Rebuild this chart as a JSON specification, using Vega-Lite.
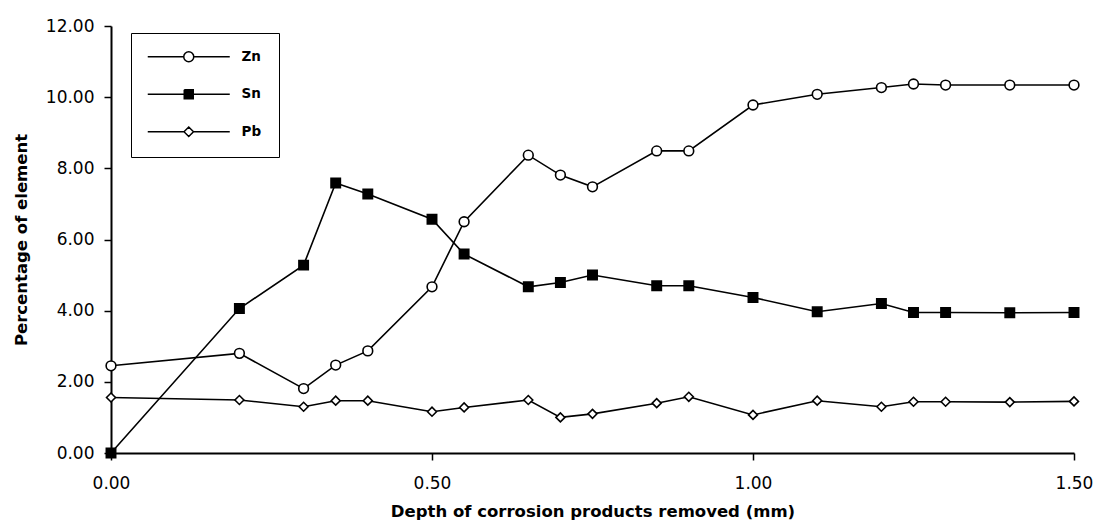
{
  "$schema": "https://vega.github.io/schema/vega-lite/v6.json",
  "width": 963,
  "height": 427,
  "padding": {"left": 13, "top": 17, "right": 5, "bottom": 0},
  "background": "white",
  "config": {
    "view": {"stroke": null},
    "font": "DejaVu Sans",
    "axis": {
      "grid": false,
      "labelFlush": false,
      "domainColor": "black",
      "domainWidth": 2,
      "tickColor": "black",
      "tickWidth": 1.5,
      "tickSize": 7,
      "labelFont": "DejaVu Sans",
      "labelFontSize": 17,
      "labelColor": "black",
      "titleFont": "DejaVu Sans",
      "titleFontSize": 16.5,
      "titleFontWeight": "bold",
      "titleColor": "black"
    }
  },
  "data": {
    "values": [
      {"x": 0.0, "y": 2.45, "series": "Zn"},
      {"x": 0.2, "y": 2.8, "series": "Zn"},
      {"x": 0.3, "y": 1.81, "series": "Zn"},
      {"x": 0.35, "y": 2.47, "series": "Zn"},
      {"x": 0.4, "y": 2.87, "series": "Zn"},
      {"x": 0.5, "y": 4.67, "series": "Zn"},
      {"x": 0.55, "y": 6.5, "series": "Zn"},
      {"x": 0.65, "y": 8.37, "series": "Zn"},
      {"x": 0.7, "y": 7.81, "series": "Zn"},
      {"x": 0.75, "y": 7.48, "series": "Zn"},
      {"x": 0.85, "y": 8.49, "series": "Zn"},
      {"x": 0.9, "y": 8.49, "series": "Zn"},
      {"x": 1.0, "y": 9.78, "series": "Zn"},
      {"x": 1.1, "y": 10.08, "series": "Zn"},
      {"x": 1.2, "y": 10.27, "series": "Zn"},
      {"x": 1.25, "y": 10.37, "series": "Zn"},
      {"x": 1.3, "y": 10.34, "series": "Zn"},
      {"x": 1.4, "y": 10.34, "series": "Zn"},
      {"x": 1.5, "y": 10.34, "series": "Zn"},
      {"x": 0.0, "y": 0.0, "series": "Sn"},
      {"x": 0.2, "y": 4.06, "series": "Sn"},
      {"x": 0.3, "y": 5.28, "series": "Sn"},
      {"x": 0.35, "y": 7.59, "series": "Sn"},
      {"x": 0.4, "y": 7.28, "series": "Sn"},
      {"x": 0.5, "y": 6.57, "series": "Sn"},
      {"x": 0.55, "y": 5.59, "series": "Sn"},
      {"x": 0.65, "y": 4.67, "series": "Sn"},
      {"x": 0.7, "y": 4.79, "series": "Sn"},
      {"x": 0.75, "y": 5.0, "series": "Sn"},
      {"x": 0.85, "y": 4.7, "series": "Sn"},
      {"x": 0.9, "y": 4.7, "series": "Sn"},
      {"x": 1.0, "y": 4.37, "series": "Sn"},
      {"x": 1.1, "y": 3.97, "series": "Sn"},
      {"x": 1.2, "y": 4.2, "series": "Sn"},
      {"x": 1.25, "y": 3.95, "series": "Sn"},
      {"x": 1.3, "y": 3.95, "series": "Sn"},
      {"x": 1.4, "y": 3.94, "series": "Sn"},
      {"x": 1.5, "y": 3.95, "series": "Sn"},
      {"x": 0.0, "y": 1.56, "series": "Pb"},
      {"x": 0.2, "y": 1.49, "series": "Pb"},
      {"x": 0.3, "y": 1.3, "series": "Pb"},
      {"x": 0.35, "y": 1.47, "series": "Pb"},
      {"x": 0.4, "y": 1.47, "series": "Pb"},
      {"x": 0.5, "y": 1.16, "series": "Pb"},
      {"x": 0.55, "y": 1.28, "series": "Pb"},
      {"x": 0.65, "y": 1.49, "series": "Pb"},
      {"x": 0.7, "y": 1.0, "series": "Pb"},
      {"x": 0.75, "y": 1.1, "series": "Pb"},
      {"x": 0.85, "y": 1.4, "series": "Pb"},
      {"x": 0.9, "y": 1.58, "series": "Pb"},
      {"x": 1.0, "y": 1.07, "series": "Pb"},
      {"x": 1.1, "y": 1.47, "series": "Pb"},
      {"x": 1.2, "y": 1.3, "series": "Pb"},
      {"x": 1.25, "y": 1.44, "series": "Pb"},
      {"x": 1.3, "y": 1.44, "series": "Pb"},
      {"x": 1.4, "y": 1.43, "series": "Pb"},
      {"x": 1.5, "y": 1.45, "series": "Pb"}
    ]
  },
  "encoding": {
    "x": {
      "field": "x",
      "type": "quantitative",
      "scale": {"domain": [0, 1.5], "nice": false, "zero": false},
      "axis": {
        "values": [0, 0.5, 1, 1.5],
        "format": ".2f",
        "labelPadding": 15,
        "titlePadding": 12,
        "title": "Depth of corrosion products removed (mm)"
      }
    },
    "y": {
      "field": "y",
      "type": "quantitative",
      "scale": {"domain": [0, 12], "nice": false},
      "axis": {
        "values": [0, 2, 4, 6, 8, 10, 12],
        "format": ".2f",
        "labelPadding": 10,
        "titlePadding": 16,
        "title": "Percentage of element"
      }
    }
  },
  "layer": [
    {
      "mark": {"type": "line", "stroke": "black", "strokeWidth": 1.6},
      "encoding": {"detail": {"field": "series"}}
    },
    {
      "mark": {"type": "point", "stroke": "black", "strokeWidth": 1.6, "opacity": 1},
      "encoding": {
        "shape": {
          "field": "series",
          "scale": {"domain": ["Zn", "Sn", "Pb"], "range": ["circle", "square", "diamond"]},
          "legend": null
        },
        "fill": {
          "field": "series",
          "scale": {"domain": ["Zn", "Sn", "Pb"], "range": ["white", "black", "white"]},
          "legend": null
        },
        "size": {
          "field": "series",
          "scale": {"domain": ["Zn", "Sn", "Pb"], "range": [95, 80, 115]},
          "legend": null
        }
      }
    },
    {
      "transform": [{"filter": "datum.x < -1"}],
      "mark": {"type": "point", "filled": false, "stroke": "black", "strokeWidth": 1.5, "size": 100, "opacity": 1},
      "encoding": {
        "shape": {
          "field": "series",
          "scale": {
            "domain": ["Zn", "Sn", "Pb"],
            "range": [
              "M-8.2,0H-1M1,0A1,1 0 1,1 -1,0A1,1 0 1,1 1,0M1,0H8.2",
              "M-8.2,0H-0.9M-0.9,-0.9H0.9V-0.7H-0.9V-0.5H0.9V-0.3H-0.9V-0.1H0.9V0.1H-0.9V0.3H0.9V0.5H-0.9V0.7H0.9V0.9H-0.9V-0.9M0.9,-0.9V0.9M0.9,0H8.2",
              "M-8.2,0H-0.95M-0.95,0L0,-0.95L0.95,0L0,0.95L-0.95,0M0.95,0H8.2"
            ]
          },
          "legend": {
            "title": null,
            "orient": "none",
            "legendX": 20,
            "legendY": 7,
            "padding": 17,
            "strokeColor": "black",
            "symbolOffset": 34,
            "symbolSize": 100,
            "symbolType": "circle",
            "symbolFillColor": "white",
            "symbolStrokeColor": "black",
            "symbolStrokeWidth": 1.5,
            "labelOffset": 46,
            "labelFont": "DejaVu Sans",
            "labelFontSize": 13.5,
            "labelFontWeight": "bold",
            "labelColor": "black",
            "rowPadding": 21.5
          }
        }
      }
    }
  ],
  "resolve": {"scale": {"shape": "independent"}, "legend": {"shape": "independent"}}
}
